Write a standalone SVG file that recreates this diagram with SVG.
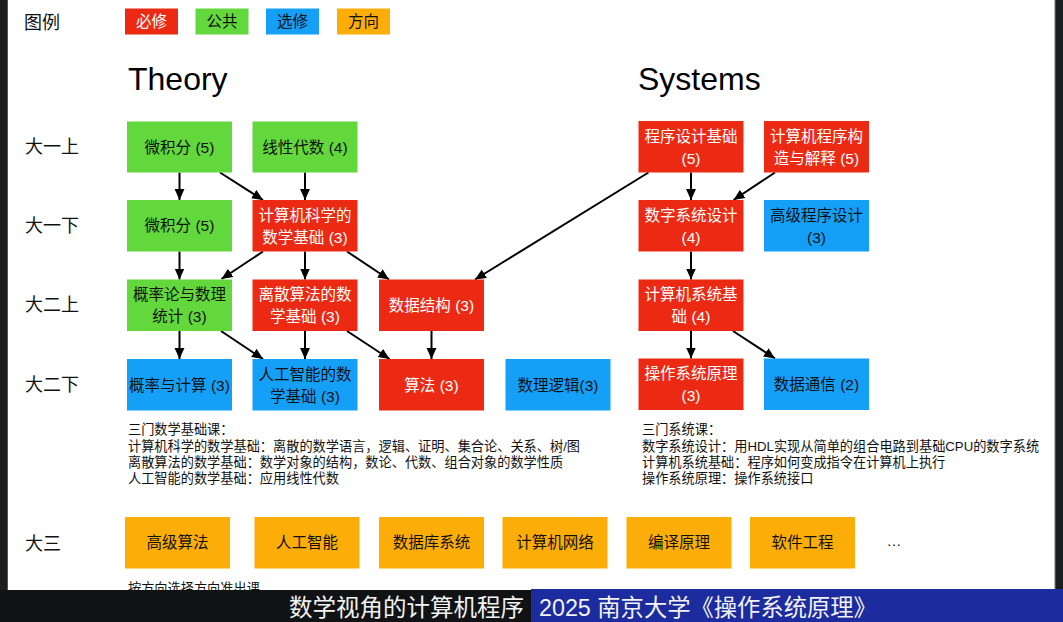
<svg xmlns="http://www.w3.org/2000/svg" width="1063" height="622" viewBox="0 0 1063 622">
<defs>
<style>
text{font-family:"Liberation Sans","Noto Sans CJK SC",sans-serif;}
.r{fill:#EC2A14;}
.g{fill:#62D83C;}
.b{fill:#15A0F8;}
.o{fill:#FDAD08;}
.t{font-size:15.5px;text-anchor:middle;fill:#111;}
.tw{font-size:15.5px;text-anchor:middle;fill:#fff;}
.row{font-size:18px;fill:#111;}
.note{font-size:13.2px;fill:#111;}
.edge{stroke:#000;stroke-width:2;fill:none;marker-end:url(#ah);}
</style>
<marker id="ah" viewBox="0 0 10 10" refX="10" refY="5" markerWidth="11" markerHeight="11" markerUnits="userSpaceOnUse" orient="auto">
<path d="M0,0.5 L10,5 L0,9.5 z" fill="#000"/>
</marker>
</defs>
<rect x="0" y="0" width="1063" height="622" fill="#ffffff"/>
<!-- frame -->
<rect x="0" y="0" width="7" height="622" fill="#1c1d1f"/>
<rect x="7" y="0" width="1" height="590" fill="#555"/>
<rect x="1055" y="0" width="8" height="622" fill="#1c1d1f"/>
<rect x="1054.5" y="0" width="1" height="590" fill="#777"/>

<!-- legend -->
<g id="legend">
<text x="24" y="29" style="font-size:18px" fill="#111">图例</text>
<rect class="r" x="125" y="8.5" width="53" height="26"/>
<text class="tw" x="151.5" y="27">必修</text>
<rect class="g" x="195.5" y="8.5" width="53" height="26"/>
<text class="t" x="222" y="27">公共</text>
<rect class="b" x="266" y="8.5" width="53" height="26"/>
<text class="t" x="292.5" y="27">选修</text>
<rect class="o" x="337" y="8.5" width="53" height="26"/>
<text class="t" x="363.5" y="27">方向</text>
</g>

<text x="128" y="90" style="font-size:32px" fill="#000">Theory</text>
<text x="638" y="90" style="font-size:32px" fill="#000">Systems</text>

<g id="rowlabels">
<text class="row" x="25" y="153">大一上</text>
<text class="row" x="25" y="232">大一下</text>
<text class="row" x="25" y="311">大二上</text>
<text class="row" x="25" y="391">大二下</text>
<text class="row" x="25" y="550">大三</text>
</g>

<!-- connectors -->
<g id="connectors">
<path class="edge" d="M179.5,172.5 L179.5,200"/>
<path class="edge" d="M220,172.5 L263,200"/>
<path class="edge" d="M305,172.5 L305,200"/>
<path class="edge" d="M179.5,251.5 L179.5,279.5"/>
<path class="edge" d="M263,251.5 L221.5,279"/>
<path class="edge" d="M305,251.5 L305,279.5"/>
<path class="edge" d="M347,251.5 L389,279.5"/>
<path class="edge" d="M648.5,172.5 L475,279.5"/>
<path class="edge" d="M179.5,331 L179.5,359"/>
<path class="edge" d="M221,331 L263,359"/>
<path class="edge" d="M305,331 L305,359"/>
<path class="edge" d="M347,331 L389.5,359"/>
<path class="edge" d="M431.5,331 L431.5,359"/>
<path class="edge" d="M691,172.5 L691,200"/>
<path class="edge" d="M775,172.5 L733.5,200"/>
<path class="edge" d="M691,251.5 L691,279.5"/>
<path class="edge" d="M691,331 L691,358.5"/>
<path class="edge" d="M733,331 L775,358.5"/>
</g>

<!-- Theory nodes -->
<g id="n_calc1"><rect class="g" x="127" y="121.5" width="105" height="51"/><text class="t" x="179.5" y="152.5">微积分 (5)</text></g>
<g id="n_linalg"><rect class="g" x="252.5" y="121.5" width="105" height="51"/><text class="t" x="305" y="152.5">线性代数 (4)</text></g>
<g id="n_calc2"><rect class="g" x="127" y="200" width="105" height="51.5"/><text class="t" x="179.5" y="231">微积分 (5)</text></g>
<g id="n_mcs"><rect class="r" x="252.5" y="200" width="105" height="51.5"/><text class="tw" x="305" y="220.5">计算机科学的</text><text class="tw" x="305" y="242.5">数学基础 (3)</text></g>
<g id="n_prob"><rect class="g" x="127" y="279.5" width="105" height="51.5"/><text class="t" x="179.5" y="300">概率论与数理</text><text class="t" x="179.5" y="322">统计 (3)</text></g>
<g id="n_discrete"><rect class="r" x="252.5" y="279.5" width="105" height="51.5"/><text class="tw" x="305" y="300">离散算法的数</text><text class="tw" x="305" y="322">学基础 (3)</text></g>
<g id="n_ds"><rect class="r" x="379" y="279.5" width="105" height="51.5"/><text class="tw" x="431.5" y="311">数据结构 (3)</text></g>
<g id="n_probcomp"><rect class="b" x="127" y="359" width="105" height="51.5"/><text class="t" x="179.5" y="390.5">概率与计算 (3)</text></g>
<g id="n_aimath"><rect class="b" x="252.5" y="359" width="105" height="51.5"/><text class="t" x="305" y="379.5">人工智能的数</text><text class="t" x="305" y="401.5">学基础 (3)</text></g>
<g id="n_algo"><rect class="r" x="379" y="359" width="105" height="51.5"/><text class="tw" x="431.5" y="390.5">算法 (3)</text></g>
<g id="n_logic"><rect class="b" x="505.5" y="359" width="105" height="51.5"/><text class="t" x="558" y="390.5">数理逻辑(3)</text></g>

<!-- Systems nodes -->
<g id="n_prog"><rect class="r" x="638.5" y="121" width="105" height="51.5"/><text class="tw" x="691" y="141.5">程序设计基础</text><text class="tw" x="691" y="163.5">(5)</text></g>
<g id="n_sicp"><rect class="r" x="764" y="121" width="105" height="51.5"/><text class="tw" x="816.5" y="141.5">计算机程序构</text><text class="tw" x="816.5" y="163.5">造与解释 (5)</text></g>
<g id="n_digital"><rect class="r" x="638.5" y="200" width="105" height="51.5"/><text class="tw" x="691" y="220.5">数字系统设计</text><text class="tw" x="691" y="242.5">(4)</text></g>
<g id="n_advprog"><rect class="b" x="764" y="200" width="105" height="51.5"/><text class="t" x="816.5" y="220.5">高级程序设计</text><text class="t" x="816.5" y="242.5">(3)</text></g>
<g id="n_ics"><rect class="r" x="638.5" y="279.5" width="105" height="51.5"/><text class="tw" x="691" y="300">计算机系统基</text><text class="tw" x="691" y="322">础 (4)</text></g>
<g id="n_os"><rect class="r" x="638.5" y="358.5" width="105" height="51.5"/><text class="tw" x="691" y="379">操作系统原理</text><text class="tw" x="691" y="401">(3)</text></g>
<g id="n_datacomm"><rect class="b" x="764" y="358.5" width="105" height="51.5"/><text class="t" x="816.5" y="390">数据通信 (2)</text></g>

<!-- notes -->
<g id="notes_left">
<text class="note" x="128" y="434">三门数学基础课：</text>
<text class="note" x="128" y="450.5">计算机科学的数学基础：离散的数学语言，逻辑、证明、集合论、关系、树/图</text>
<text class="note" x="128" y="467">离散算法的数学基础：数学对象的结构，数论、代数、组合对象的数学性质</text>
<text class="note" x="128" y="483">人工智能的数学基础：应用线性代数</text>
</g>
<g id="notes_right">
<text class="note" x="642" y="434">三门系统课：</text>
<text class="note" x="642" y="450.5">数字系统设计：用HDL实现从简单的组合电路到基础CPU的数字系统</text>
<text class="note" x="642" y="467">计算机系统基础：程序如何变成指令在计算机上执行</text>
<text class="note" x="642" y="483">操作系统原理：操作系统接口</text>
</g>

<!-- third year -->
<g id="n_y3_1"><rect class="o" x="125" y="517" width="105" height="51.5"/><text class="t" x="177.5" y="548">高级算法</text></g>
<g id="n_y3_2"><rect class="o" x="254.5" y="517" width="105" height="51.5"/><text class="t" x="307" y="548">人工智能</text></g>
<g id="n_y3_3"><rect class="o" x="379" y="517" width="105" height="51.5"/><text class="t" x="431.5" y="548">数据库系统</text></g>
<g id="n_y3_4"><rect class="o" x="502.5" y="517" width="105" height="51.5"/><text class="t" x="555" y="548">计算机网络</text></g>
<g id="n_y3_5"><rect class="o" x="626.5" y="517" width="105" height="51.5"/><text class="t" x="679" y="548">编译原理</text></g>
<g id="n_y3_6"><rect class="o" x="750" y="517" width="105" height="51.5"/><text class="t" x="802.5" y="548">软件工程</text></g>
<text x="894" y="546" style="font-size:15px;text-anchor:middle" fill="#111">…</text>
<text class="note" x="128" y="593">按方向选择方向准出课</text>

<!-- bottom bar -->
<rect x="0" y="590" width="531" height="32" fill="#111214"/>
<rect x="531" y="589" width="532" height="33" fill="#1c2b9d"/>
<text x="524" y="615.5" style="font-size:23.5px;text-anchor:end" fill="#f2f2f2">数学视角的计算机程序</text>
<text x="539" y="615.5" style="font-size:23.3px" fill="#f2f2f2">2025 南京大学《操作系统原理》</text>
</svg>
